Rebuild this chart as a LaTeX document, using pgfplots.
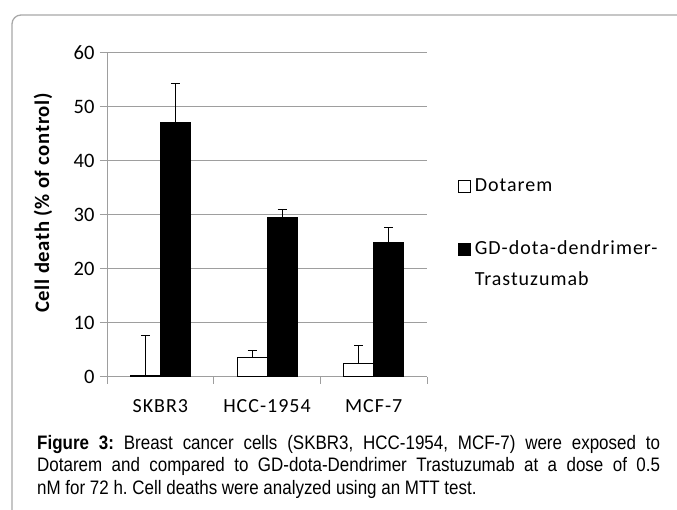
\documentclass[border=0pt]{standalone}
\usepackage{fontspec}
\setmainfont{Carlito}
\newfontfamily\arialfont{Liberation Sans}
\newfontfamily\calwide[LetterSpace=5]{Carlito}
\newfontfamily\callab[LetterSpace=3]{Carlito}
\usepackage{graphicx}
\usepackage{pgfplots}
\usepackage{pgfplotstable}
\pgfplotsset{compat=1.18}
\definecolor{gridgray}{HTML}{9E9E9E}
\definecolor{framegray}{HTML}{A8A8A8}

\pgfplotstableread{
x    y     e
0.5  0.3   7.4
1.5  3.5   1.3
2.5  2.5   3.2
}\dotarem
\pgfplotstableread{
x    y     e
0.5  47.0  7.3
1.5  29.4  1.5
2.5  24.8  2.8
}\gddota

\begin{document}
\frenchspacing
\begin{tikzpicture}[x=1pt,y=1pt]
\path[use as bounding box] (0,0) rectangle (677,509);
\begin{scope}
\clip (0,0) rectangle (677,509);
\draw[framegray, line width=1.3pt, rounded corners=9pt] (12,-20) -- (12,494) -- (700,494);
\end{scope}
\begin{axis}[
  at={(107pt,132.3pt)}, anchor=south west,
  scale only axis, width=320pt, height=324pt,
  xmin=0, xmax=3, ymin=0, ymax=60,
  axis lines=left, axis line style={draw=gridgray, line width=0.9pt, -},
  ytick={0,10,...,60},
  ymajorgrids, grid style={gridgray, line width=0.9pt},
  xtick={0,1,2,3}, xticklabels={},
  extra x ticks={0.5,1.5,2.5},
  extra x tick labels={SKBR3,HCC-1954,MCF-7},
  extra x tick style={major tick length=0pt, grid=none},
  tick align=outside, major tick length=7pt,
  tick style={gridgray, line width=0.9pt},
  /pgf/number format/assume math mode=true,
  yticklabel style={font=\fontsize{20.5}{24}\selectfont, text=black, xshift=-2pt},
  xticklabel style={font=\calwide\fontsize{20}{24}\selectfont, text=black, yshift=-19pt},
  ylabel={Cell death (\% of control)},
  ylabel style={font=\callab\fontsize{20.7}{24}\selectfont\bfseries, at={(axis description cs:-0.2,0.536)}, anchor=center},
  ybar=0pt, bar width=30pt,
  legend style={draw=none, fill=none, at={(axis description cs:1.085,0.625)}, anchor=north west,
    font=\calwide\fontsize{20}{24}\selectfont, row sep=11.5pt,
    nodes={inner sep=0pt, text height=15pt, text depth=5pt}},
  legend cell align=left,
]
\addplot[fill=white, draw=black, line width=0.9pt,
  legend image code/.code={\draw[fill=white, draw=black, line width=0.8pt] (0.5pt,-6pt) rectangle (13pt,6pt);},
  error bars/.cd, y dir=plus, y explicit,
  error bar style={black, line width=0.9pt},
  error mark options={rotate=90, mark size=4.5pt, black, line width=0.9pt}]
  table[x=x, y=y, y error=e] {\dotarem};
\addlegendentry{\hspace{4pt}Dotarem}
\addlegendimage{empty legend}
\addlegendentry{}
\addplot[fill=black, draw=black, line width=0.9pt,
  legend image code/.code={\draw[fill=black, draw=black, line width=0.8pt] (0.5pt,-6pt) rectangle (13pt,6pt);},
  error bars/.cd, y dir=plus, y explicit,
  error bar style={black, line width=0.9pt},
  error mark options={rotate=90, mark size=4.5pt, black, line width=0.9pt}]
  table[x=x, y=y, y error=e] {\gddota};
\addlegendentry{\hspace{4pt}GD-dota-dendrimer-}
\addlegendimage{empty legend}
\addlegendentry{\hspace{4pt}Trastuzumab}
\end{axis}
\begin{scope}[font=\arialfont\fontsize{19.5}{22}\selectfont]
\node[anchor=base west, inner sep=0pt] at (37,60) {\scalebox{0.87}[1]{\makebox[716pt][s]{\textbf{Figure 3:} Breast cancer cells (SKBR3, HCC-1954, MCF-7) were exposed to}}};
\node[anchor=base west, inner sep=0pt] at (37,37.5) {\scalebox{0.87}[1]{\makebox[716pt][s]{Dotarem and compared to GD-dota-Dendrimer Trastuzumab at a dose of 0.5}}};
\node[anchor=base west, inner sep=0pt] at (37,15) {\scalebox{0.87}[1]{nM for 72 h. Cell deaths were analyzed using an MTT test.}};
\end{scope}
\end{tikzpicture}
\end{document}
